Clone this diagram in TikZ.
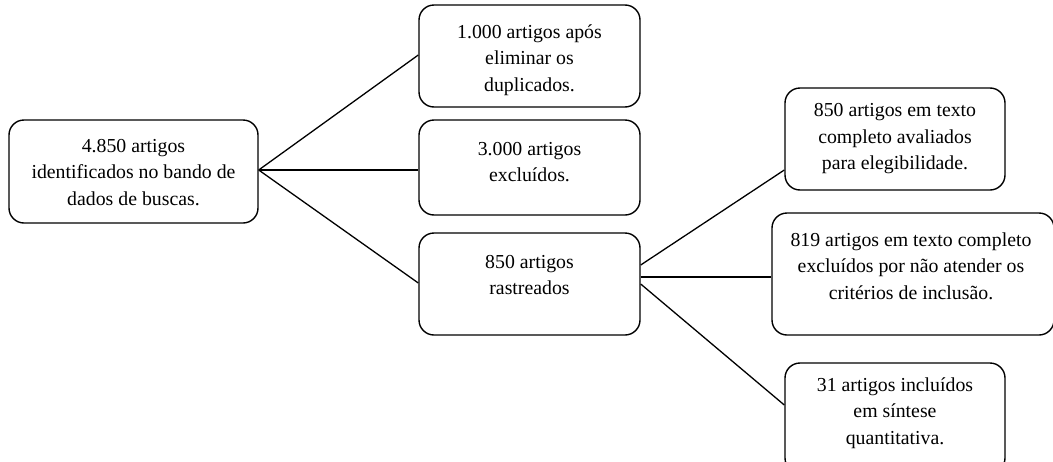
\documentclass[tikz,border=0pt]{standalone}
\usepackage{fontspec}
\setmainfont{Liberation Serif}
\usetikzlibrary{calc}
\begin{document}
\begin{tikzpicture}[x=1pt,y=-1pt,
  box/.style={draw=black,line width=1.4pt,rounded corners=15pt,inner sep=0pt},
  txt/.style={align=center,inner sep=0pt,font=\fontsize{19.8}{26.5}\selectfont},
  link/.style={draw=black,line width=1.3pt}]
\useasboundingbox (0,0) rectangle (1053,461);
% boxes
\node[box,minimum width=249pt,minimum height=103pt] (a) at (133.5,171.5) {};
\node[box,minimum width=221pt,minimum height=102pt] (b1) at (529.5,56) {};
\node[box,minimum width=221pt,minimum height=95pt] (b2) at (529.5,167.5) {};
\node[box,minimum width=221pt,minimum height=102pt] (b3) at (529.5,284) {};
\node[box,minimum width=220pt,minimum height=102pt] (c1) at (895,139) {};
\node[box,minimum width=282pt,minimum height=122pt] (c2) at (913,274) {};
\node[box,minimum width=220pt,minimum height=110pt] (c3) at (895,418) {};
% texts
\node[txt] (ta) at (133.5,172.5) {4.850 artigos\\identificados no bando de\\dados de buscas.};
\node[txt] (tb1) at (529.5,60) {1.000 artigos após\\eliminar os\\duplicados.};
\node[txt] (tb2) at (529.5,162) {3.000 artigos\\excluídos.};
\node[txt] (tb3) at (529.5,275) {850 artigos\\rastreados};
\node[txt] (tc1) at (895,139) {850 artigos em texto\\completo avaliados\\para elegibilidade.};
\node[txt] (tc2) at (911,266) {819 artigos em texto completo\\excluídos por não atender os\\critérios de inclusão.};
\node[txt] (tc3) at (895,413) {31 artigos incluídos\\em síntese\\quantitativa.};
% connectors
\coordinate (aout) at ($(a.east)+(0,-1.5)$);
\draw[link] (aout) -- ($(b1.west)+(0,-1)$);
\draw[link] (aout) -- ($(b2.west)+(0,2.5)$);
\draw[link] (aout) -- ($(b3.west)+(0,-1)$);
\draw[link] ($(b3.east)+(0,-19)$) -- ($(c1.west)+(0,31)$);
\draw[link] ($(b3.east)+(0,-7)$) -- ($(c2.west)+(0,3)$);
\draw[link] (b3.east) -- ($(c3.west)+(0,-13)$);
\end{tikzpicture}
\end{document}
